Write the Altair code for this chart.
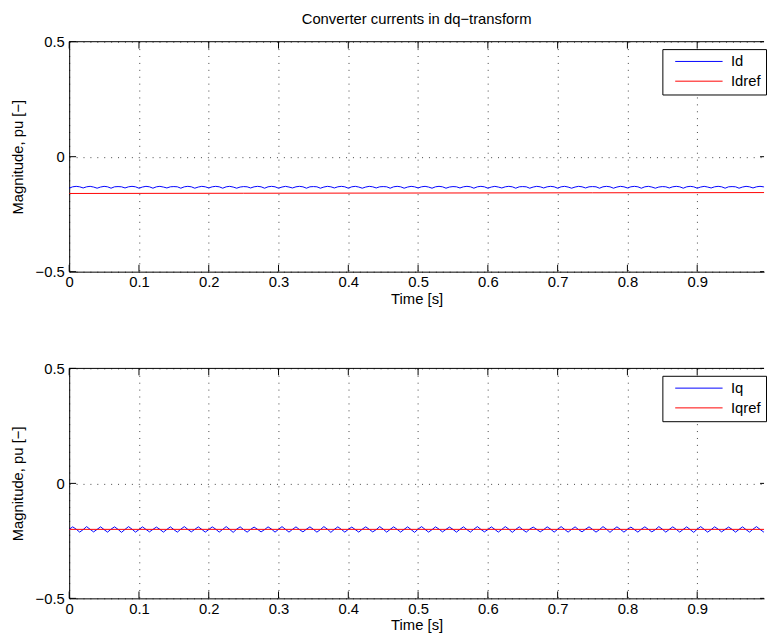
import altair as alt
import pandas as pd

FONT = "Liberation Sans"
FS = 15

TITLE = "Converter currents in dq\u2212transform"
Y_TITLE = "Magnitude, pu [\u2212]"
X_TITLE = "Time [s]"

X_TICKS = [0, 0.1, 0.2, 0.3, 0.4, 0.5, 0.6, 0.7, 0.8, 0.9]
Y_TICKS = [-0.5, 0, 0.5]
X_MAX = 0.9958

TIME_STEP = 0.005

# Id (milli-pu), sampled every 5 ms
ID_MPU = [
    -137, -131, -129, -131, -136, -131, -129, -132, -137, -132, -129, -131, -137, -131, -130, -131, -136, -131, -129, -131,
    -137, -132, -129, -131, -137, -131, -129, -132, -136, -131, -130, -131, -137, -131, -129, -131, -137, -132, -129, -131,
    -136, -131, -129, -131, -137, -131, -129, -132, -137, -132, -130, -131, -136, -131, -129, -131, -137, -131, -129, -131,
    -137, -132, -129, -132, -136, -131, -129, -131, -137, -131, -130, -131, -137, -132, -129, -131, -136, -131, -129, -131,
    -137, -131, -129, -132, -137, -132, -129, -131, -136, -131, -130, -131, -137, -131, -129, -131, -137, -132, -129, -131,
    -136, -131, -129, -132, -137, -131, -129, -131, -137, -132, -130, -131, -136, -131, -129, -131, -137, -131, -129, -131,
    -137, -132, -129, -132, -136, -131, -129, -131, -137, -131, -130, -131, -137, -132, -129, -131, -136, -131, -129, -131,
    -137, -131, -129, -132, -137, -132, -129, -131, -136, -131, -130, -131, -137, -131, -129, -131, -137, -132, -129, -131,
    -136, -131, -129, -131, -137, -131, -129, -132, -137, -132, -130, -131, -136, -131, -129, -131, -137, -131, -129, -131,
    -137, -132, -129, -132, -136, -131, -129, -131, -137, -131, -130, -131, -137, -132, -129, -131, -136, -131, -129, -131,
    -137,
]
IDREF_T = [0.0, 0.25, 0.5, 0.75, 1.0]
IDREF_MPU = [-160, -159, -158, -157, -156]

# Iq (milli-pu), sampled every 5 ms
IQ_MPU = [
    -200, -189, -199, -212, -201, -188, -200, -211, -200, -189, -201, -212, -199, -189, -200, -213, -200, -188, -199, -212,
    -201, -189, -200, -211, -200, -190, -200, -212, -200, -189, -201, -212, -199, -188, -200, -211, -200, -189, -200, -212,
    -201, -189, -199, -212, -200, -188, -200, -213, -199, -189, -201, -212, -200, -190, -200, -211, -201, -189, -199, -212,
    -200, -188, -200, -212, -200, -189, -201, -211, -199, -189, -200, -212, -201, -188, -199, -213, -200, -189, -200, -212,
    -200, -190, -201, -212, -199, -189, -200, -211, -201, -188, -199, -212, -200, -189, -200, -212, -200, -189, -201, -213,
    -199, -188, -200, -212, -201, -189, -199, -211, -200, -190, -200, -212, -200, -189, -201, -212, -199, -188, -200, -211,
    -201, -189, -200, -212, -200, -188, -199, -213, -200, -189, -201, -212, -199, -190, -200, -211, -201, -189, -199, -212,
    -200, -188, -200, -212, -200, -189, -201, -211, -199, -189, -200, -212, -201, -188, -199, -213, -200, -189, -200, -212,
    -200, -190, -201, -212, -199, -189, -200, -211, -201, -188, -199, -212, -200, -189, -200, -212, -200, -189, -201, -213,
    -199, -188, -200, -212, -201, -189, -199, -211, -200, -190, -200, -212, -200, -189, -201, -212, -199, -188, -200, -211,
    -200,
]
IQREF_T = [0.0, 0.25, 0.5, 0.75, 1.0]
IQREF_MPU = [-200, -200, -200, -200, -200]

COLORS = ["#0000ff", "#ff0000"]

W, H = 704, 233


def series_df(name, mpu, times=None):
    if times is None:
        times = [round(i * TIME_STEP, 3) for i in range(len(mpu))]
    return pd.DataFrame({"t": times, "v": [m / 1000 for m in mpu], "s": name})


X_ENC = alt.X(
    "t:Q",
    scale=alt.Scale(domain=[0, X_MAX], nice=False, zero=False),
    axis=alt.Axis(values=X_TICKS, format=".1~f", title=X_TITLE, grid=True,
                  labelFlush=False, labelPadding=3, titlePadding=2,
                  labelOverlap=False),
)
Y_ENC = alt.Y(
    "v:Q",
    scale=alt.Scale(domain=[-0.5, 0.5], nice=False, zero=False),
    axis=alt.Axis(values=Y_TICKS, format=".1~f", title=Y_TITLE, grid=True,
                  labelPadding=5, titlePadding=10, labelOverlap=False),
)


def panel(df, names, title=None):
    legend = alt.Legend(
        title=None, orient="none", legendX=601, legendY=7.5,
        strokeColor="black", fillColor="white", padding=5, cornerRadius=0,
        symbolType="M0,0H16", symbolSize=36, symbolStrokeWidth=1, symbolOffset=0.5,
        labelOffset=49, labelFont=FONT, labelFontSize=FS, labelColor="black",
        rowPadding=4,
    )
    lines = alt.Chart(df).mark_line(strokeWidth=1, clip=True).encode(
        x=X_ENC, y=Y_ENC,
        color=alt.Color("s:N", scale=alt.Scale(domain=names, range=COLORS), legend=legend),
    )
    xt = pd.DataFrame({"t": X_TICKS})
    yt = pd.DataFrame({"v": Y_TICKS})
    tick_b = alt.Chart(xt).mark_rule(color="black", strokeWidth=1).encode(
        x=X_ENC, y=alt.value(H), y2=alt.value(H - 7))
    tick_t = alt.Chart(xt).mark_rule(color="black", strokeWidth=1).encode(
        x=X_ENC, y=alt.value(0), y2=alt.value(7))
    tick_l = alt.Chart(yt).mark_rule(color="black", strokeWidth=1).encode(
        y=Y_ENC, x=alt.value(0), x2=alt.value(7))
    tick_r = alt.Chart(yt).mark_rule(color="black", strokeWidth=1).encode(
        y=Y_ENC, x=alt.value(W - 4), x2=alt.value(W))
    top_border = alt.Chart(pd.DataFrame({"v": [0.5]})).mark_rule(color="black", strokeWidth=1).encode(
        y=Y_ENC, x=alt.value(0), x2=alt.value(W))
    ch = alt.layer(lines, tick_b, tick_t, tick_l, tick_r, top_border)
    props = dict(width=W, height=H)
    if title:
        props["title"] = alt.TitleParams(
            title, font=FONT, fontSize=FS, fontWeight="normal", color="black",
            anchor="middle", frame="group", offset=8)
    return ch.properties(**props)


top_df = pd.concat([series_df("Id", ID_MPU), series_df("Idref", IDREF_MPU, IDREF_T)])
bot_df = pd.concat([series_df("Iq", IQ_MPU), series_df("Iqref", IQREF_MPU, IQREF_T)])

top = panel(top_df, ["Id", "Idref"], TITLE)
bottom = panel(bot_df, ["Iq", "Iqref"])

chart = (
    alt.vconcat(top, bottom, spacing=56)
    .resolve_scale(color="independent")
    .properties(padding={"left": 2, "top": 0, "right": 0, "bottom": 0}, background="white")
    .configure_view(stroke=None)
    .configure_axis(
        domainColor="black", domainWidth=1, ticks=False,
        labelFont=FONT, labelFontSize=FS, labelColor="black",
        titleFont=FONT, titleFontSize=FS, titleFontWeight="normal", titleColor="black",
        gridColor="#000000", gridOpacity=0.75, gridDash=[1, 6], gridWidth=1,
    )
)

chart.save("out.html", embed_options={"renderer": "svg", "actions": False})
